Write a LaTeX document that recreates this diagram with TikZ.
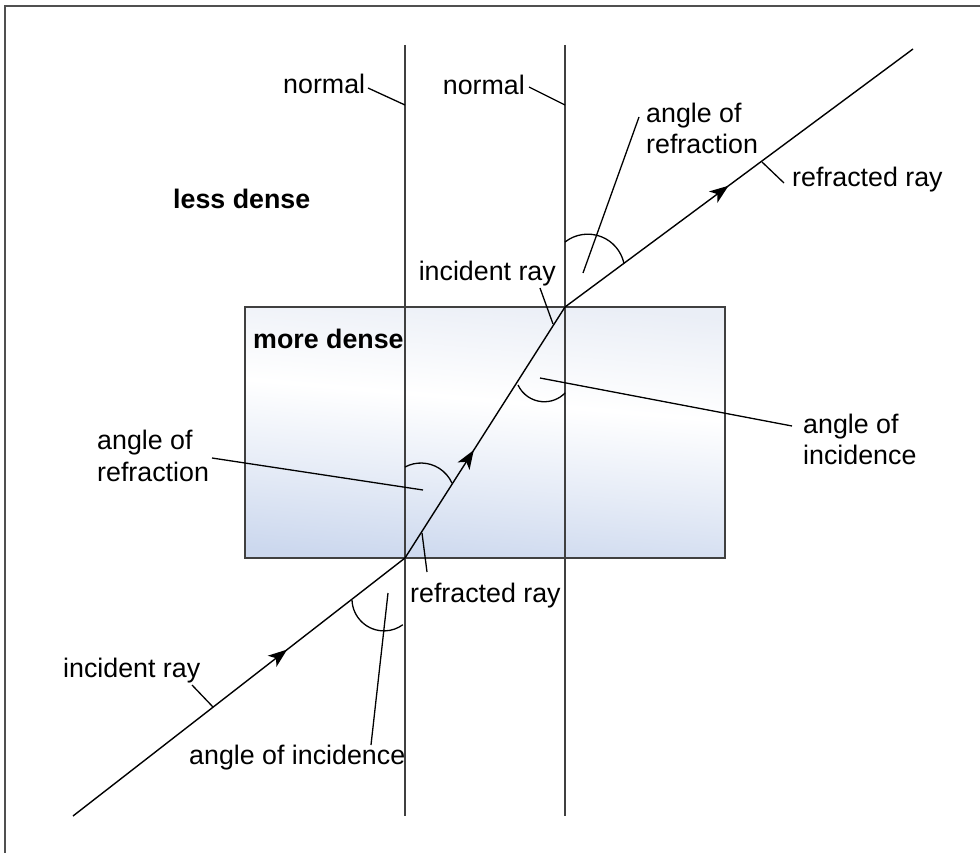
\documentclass[tikz,border=0pt]{standalone}
\usepackage{fontspec}
\setmainfont{Liberation Sans}
\usetikzlibrary{arrows.meta,decorations.markings}
\definecolor{edgegrey}{HTML}{404040}
\definecolor{framegrey}{HTML}{505050}
\definecolor{glasstop}{HTML}{EAEEF6}
\definecolor{glassbot}{HTML}{CCD8EE}
\pgfdeclareverticalshading{glassshade}{100bp}{color(0bp)=(glassbot); color(25bp)=(glassbot); color(40bp)=(glassbot!50!white); color(56bp)=(white); color(75bp)=(glasstop); color(100bp)=(glasstop)}
\begin{document}
\begin{tikzpicture}[x=1pt,y=-1pt,
  lbl/.style={font=\fontsize{26.8}{32}\selectfont, inner sep=0pt},
  boldlbl/.style={font=\fontsize{26.8}{32}\selectfont\bfseries, inner sep=0pt},
  ray/.style={line width=1.4pt, black},
  leader/.style={line width=1.3pt, black},
  normalline/.style={line width=1.8pt, edgegrey},
  anglearc/.style={line width=1.3pt, black},
  arrowat/.style={postaction={decorate}, decoration={markings, mark=at position #1 with {\arrow{Stealth[length=19pt,width=14pt,inset=5pt]}}}}
]
\useasboundingbox (0,0) rectangle (980,853);
% frame
\begin{scope}
  \clip (0,0) rectangle (980,853);
  \draw[framegrey, line width=1.5pt] (5,6) rectangle (1000,880);
\end{scope}
% glass block
\shade[shading=glassshade, shading angle=-5] (245,307) rectangle (725,558);
\draw[edgegrey, line width=1.6pt] (245,307) rectangle (725,558);
% key points
\coordinate (S) at (73,816);
\coordinate (P1) at (405,558);
\coordinate (P2) at (565,307);
\coordinate (E) at (913,49);
\coordinate (N1t) at (405,45);
\coordinate (N1b) at (405,816);
\coordinate (N2t) at (565,45);
\coordinate (N2b) at (565,816);
% normals
\draw[normalline] (N1t) -- (N1b);
\draw[normalline] (N2t) -- (N2b);
% rays
\draw[ray, arrowat=0.645] (S) -- (P1);
\draw[ray, arrowat=0.43] (P1) -- (P2);
\draw[ray, arrowat=0.47] (P2) -- (E);
% angle arcs
\draw[anglearc] (565,242) arc[start angle=-128, end angle=-13, radius=37];
\draw[anglearc] (405,467) arc[start angle=-118, end angle=-24, radius=34];
\draw[anglearc] (518,385) arc[start angle=155, end angle=44, radius=29];
\draw[anglearc] (352,600) arc[start angle=178, end angle=54, radius=32];
% labels
\node[lbl, anchor=base west] (nA) at (283,94) {normal};
\node[lbl, anchor=base east] (nB) at (525,95) {normal};
\node[boldlbl, anchor=base west] (less) at (173,209) {less dense};
\node[boldlbl, anchor=base west] (more) at (253,348) {more dense};
\node[lbl, anchor=base east] (incT) at (556,280) {incident ray};
\node[lbl, anchor=base west] (refrT1) at (646,123) {angle of};
\node[lbl, anchor=base west] (refrT2) at (646,154) {refraction};
\node[lbl, anchor=base west] (rrT) at (792,187) {refracted ray};
\node[lbl, anchor=base west] (incR1) at (803,433) {angle of};
\node[lbl, anchor=base west] (incR2) at (803,464) {incidence};
\node[lbl, anchor=base west] (refrL1) at (97,449) {angle of};
\node[lbl, anchor=base west] (refrL2) at (97,481) {refraction};
\node[lbl, anchor=base west] (rrB) at (410,602) {refracted ray};
\node[lbl, anchor=base west] (incB) at (63,677) {incident ray};
\node[lbl, anchor=base west] (aiB) at (189,764) {angle of incidence};
% leaders
\draw[leader] (368,88) -- (405,105);
\draw[leader] (529,87) -- (565,105);
\draw[leader] (540,288) -- (553,324);
\draw[leader] (639,117) -- (583,273);
\draw[leader] (762,162) -- (784,183);
\draw[leader] (540,378) -- (792,426);
\draw[leader] (212,458) -- (423,490);
\draw[leader] (422,533) -- (427,572);
\draw[leader] (192,685) -- (213,707);
\draw[leader] (371,745) -- (388,593);
\end{tikzpicture}
\end{document}
